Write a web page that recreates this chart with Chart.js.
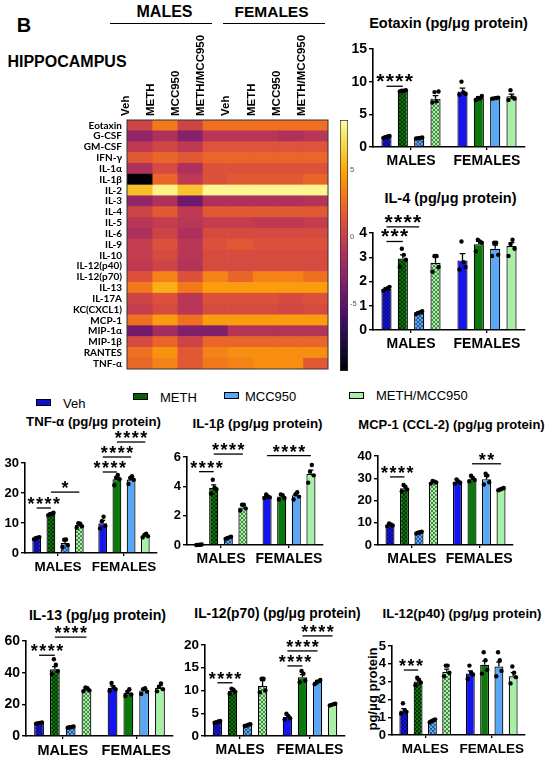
<!DOCTYPE html>
<html>
<head>
<meta charset="utf-8">
<script src="https://cdn.jsdelivr.net/npm/chart.js@4.4.1/dist/chart.umd.min.js"></script>
<style>
  body { margin: 0; background: #fff; width: 550px; height: 761px; position: relative; overflow: hidden;
         font-family: "Liberation Sans", Arial, sans-serif; color: #000; }
  canvas { position: absolute; }
  .t { position: absolute; font-weight: bold; white-space: nowrap; line-height: 1; transform: translate(-50%, -50%); }
  .rule { position: absolute; height: 0; border-top: 1.4px solid #000; }
  .box { position: absolute; width: 13px; height: 5px; border: 1.5px solid #000; }
  .lab { position: absolute; font-size: 13px; line-height: 1; white-space: nowrap; transform: translateY(-50%); }
  .ytitle { position: absolute; font-weight: bold; font-size: 13px; line-height: 1; white-space: nowrap;
            transform: translate(-50%, -50%) rotate(-90deg); }
</style>
</head>
<body>

<div class="t" style="left:24px;top:25px;font-size:20px">B</div>
<div class="t" style="left:67px;top:61.5px;font-size:16px">HIPPOCAMPUS</div>
<div class="t" style="left:164.5px;top:11.5px;font-size:16px">MALES</div>
<div class="rule" style="left:110px;top:23px;width:102px"></div>
<div class="t" style="left:271.5px;top:12px;font-size:15.5px">FEMALES</div>
<div class="rule" style="left:223px;top:23px;width:102px"></div>

<div class="t" style="left:448.5px;top:22.5px;font-size:14.5px">Eotaxin (pg/μg protein)</div>
<div class="t" style="left:450.5px;top:197.5px;font-size:14.5px">IL-4 (pg/μg protein)</div>
<div class="t" style="left:93.5px;top:422px;font-size:13.2px">TNF-α (pg/μg protein)</div>
<div class="t" style="left:257.5px;top:424px;font-size:13.4px">IL-1β (pg/μg protein)</div>
<div class="t" style="left:451.5px;top:424px;font-size:13px">MCP-1 (CCL-2) (pg/μg protein)</div>
<div class="t" style="left:97.5px;top:615px;font-size:14.2px">IL-13 (pg/μg protein)</div>
<div class="t" style="left:277.5px;top:613.5px;font-size:13.8px">IL-12(p70) (pg/μg protein)</div>
<div class="t" style="left:462px;top:614px;font-size:13.2px">IL-12(p40) (pg/μg protein)</div>
<div class="ytitle" style="left:372px;top:689px">pg/μg protein</div>

<div class="box" style="left:36px;top:399px;background:#1010c8"></div><div class="lab" style="left:63px;top:402.5px">Veh</div>
<div class="box" style="left:133px;top:393px;background:#0a600a"></div><div class="lab" style="left:160px;top:396.5px">METH</div>
<div class="box" style="left:224px;top:392px;background:#5aa8f5"></div><div class="lab" style="left:245px;top:396px">MCC950</div>
<div class="box" style="left:349px;top:392px;background:#a8f0a8"></div><div class="lab" style="left:376px;top:395px">METH/MCC950</div>

<canvas id="cHeat"></canvas>
<canvas id="cBar"></canvas>
<canvas id="cEotaxin"></canvas>
<canvas id="cIL4"></canvas>
<canvas id="cTNF"></canvas>
<canvas id="cIL1b"></canvas>
<canvas id="cMCP1"></canvas>
<canvas id="cIL13"></canvas>
<canvas id="cP70"></canvas>
<canvas id="cP40"></canvas>

<script>
const groups = ['MALES', 'FEMALES'];
const treatments = ['Veh', 'METH', 'MCC950', 'METH/MCC950'];

// heatmap (colour-scale units)
const cytokines = ['Eotaxin', 'G-CSF', 'GM-CSF', 'IFN-γ', 'IL-1α', 'IL-1β', 'IL-2', 'IL-3', 'IL-4', 'IL-5',
  'IL-6', 'IL-9', 'IL-10', 'IL-12(p40)', 'IL-12(p70)', 'IL-13', 'IL-17A', 'KC(CXCL1)', 'MCP-1',
  'MIP-1α', 'MIP-1β', 'RANTES', 'TNF-α'];
const heatColumns = ['Veh', 'METH', 'MCC950', 'METH/MCC950', 'Veh', 'METH', 'MCC950', 'METH/MCC950'];
const heatValues = [
  [0.3, 3.1, 0.3, 2.7, 2.7, 2.7, 2.7, 2.7],
  [-2.6, -1.3, -3.2, -0.9, -0.9, -0.9, -1.3, -0.9],
  [-0.5, 0.4, -0.5, 1.3, 1.3, 1.3, 1.3, 1.3],
  [1.6, 2.2, 1.6, 2.2, 2.2, 2.2, 2.2, 2.2],
  [-1.3, 0.8, -1.3, 1.2, 1.2, 1.2, 1.2, 1.2],
  [-10, 2.2, -0.5, 1.2, 1.6, 1.6, 1.6, 2.2],
  [5.9, 8.1, 6.1, 8.3, 8.3, 8.3, 8.3, 8.3],
  [-2.6, -1.3, -4.2, -1.3, -1.3, -1.3, -1.3, -1.0],
  [0.3, 1.6, -0.5, 1.6, 1.6, 1.6, 1.6, 1.6],
  [-0.8, -0.2, -0.8, -0.2, -0.2, -0.5, -0.5, -0.2],
  [-1.3, 0.3, -1.3, 0.8, 0.8, 0.8, 0.8, 0.8],
  [-0.2, 1.2, -0.8, 1.2, 1.6, 1.2, 1.2, 1.2],
  [-0.2, 0.8, -0.8, 0.8, 0.8, 0.8, 0.8, 0.8],
  [-0.5, 0.3, -1.0, 0.8, 0.8, 0.8, 0.8, 0.8],
  [1.2, 3.5, 1.2, 3.5, 2.2, 3.5, 3.5, 2.7],
  [3.1, 5.3, 3.1, 4.6, 4.6, 4.6, 4.6, 4.6],
  [0.3, 1.2, -0.8, 1.2, 1.2, 1.2, 0.8, 1.2],
  [-0.2, 0.8, -0.8, 0.8, 0.8, 0.8, 0.5, 0.8],
  [2.7, 4.6, 2.7, 4.6, 4.6, 4.6, 4.6, 4.6],
  [-4.0, -1.8, -3.4, -3.4, -1.0, -1.0, -1.0, -1.0],
  [0.8, 2.2, 0.3, 2.2, 2.2, 2.2, 2.2, 2.2],
  [2.7, 4.2, 1.6, 3.5, 4.0, 4.0, 4.0, 4.0],
  [2.3, 3.5, 1.6, 3.1, 3.5, 4.0, 4.0, 1.6]
];
const heatRange = [-10, 8.7];
const heatTicks = [-5, 0, 5];

// bar panels: 8 bars = 4 males then 4 females
const eotaxinTicks = [0, 5, 10, 15];
const eotaxinMean = [1.55, 8.6, 1.4, 7.4, 8.5, 7.5, 7.5, 7.75];
const eotaxinSem = [0.1, 0.1, 0.05, 0.45, 0.5, 0.15, 0.05, 0.35];
const eotaxinDots = [[1.4, 1.5, 1.6, 1.7], [8.5, 8.6, 8.6, 8.7], [1.3, 1.35, 1.4, 1.45], [6.8, 8.4, 7.0, 8.5],
  [8.0, 10.0, 8.4, 8.1], [7.2, 7.5, 7.4, 7.8], [7.4, 7.45, 7.5, 7.55], [7.2, 8.7, 7.6, 7.4]];
const eotaxinSig = [[0, 1, 9.3, '****']];

const il4Ticks = [0, 1, 2, 3, 4];
const il4Mean = [1.7, 2.95, 0.71, 2.77, 2.87, 3.54, 3.35, 3.46];
const il4Sem = [0.04, 0.15, 0.04, 0.25, 0.28, 0.12, 0.15, 0.14];
const il4Dots = [[1.62, 1.68, 1.72, 1.78], [2.6, 3.35, 3.1, 2.9], [0.66, 0.7, 0.73, 0.78], [2.4, 3.05, 3.05, 2.6],
  [2.5, 3.65, 2.8, 2.6], [3.25, 3.72, 3.65, 3.6], [3.05, 3.6, 3.6, 3.1], [3.05, 3.55, 3.72, 3.35]];
const il4Sig = [[0, 1, 3.65, '***'], [0, 2, 4.25, '****']];

const tnfTicks = [0, 10, 20, 30];
const tnfMean = [5.0, 13.0, 3.3, 9.3, 9.9, 24.6, 24.5, 5.8];
const tnfSem = [0.3, 0.3, 0.8, 0.5, 1.0, 0.8, 0.6, 0.4];
const tnfDots = [[4.6, 4.9, 5.1, 5.3], [12.6, 12.9, 13.1, 13.4], [2.0, 4.4, 4.5, 2.6], [8.4, 9.9, 9.8, 8.9],
  [8.2, 10.6, 12.1, 9.0], [22.6, 25.1, 26.0, 24.6], [23.0, 25.0, 25.6, 24.4], [5.2, 6.0, 6.4, 5.6]];
const tnfSig = [[0, 1, 15, '****'], [1, 3, 20.3, '*'], [4, 5, 27, '****'], [4, 6, 32, '****'], [5, 7, 37, '****']];

const il1bTicks = [0, 2, 4, 6];
const il1bMean = [0.03, 3.9, 0.5, 2.55, 3.3, 3.3, 3.4, 4.85];
const il1bSem = [0.01, 0.2, 0.05, 0.15, 0.08, 0.12, 0.12, 0.25];
const il1bDots = [[0.0, 0.01, 0.02, 0.03], [3.5, 4.45, 3.9, 3.8], [0.42, 0.47, 0.52, 0.56], [2.35, 2.75, 2.75, 2.5],
  [3.2, 3.45, 3.3, 3.25], [3.1, 3.45, 3.4, 3.2], [3.1, 3.45, 3.6, 3.3], [4.25, 5.0, 5.45, 4.75]];
const il1bSig = [[0, 1, 5.0, '****'], [1, 3, 6.2, '****'], [4, 7, 6.1, '****']];

const mcp1Ticks = [0, 10, 20, 30, 40];
const mcp1Mean = [9.0, 25.5, 5.6, 28.3, 28.4, 29.6, 29.6, 25.1];
const mcp1Sem = [0.4, 0.9, 0.3, 0.4, 0.5, 0.7, 1.3, 0.4];
const mcp1Dots = [[8.4, 9.7, 9.2, 8.8], [24.0, 27.0, 26.2, 25.0], [5.2, 5.5, 5.7, 6.0], [27.6, 28.8, 28.5, 28.1],
  [27.6, 29.5, 28.6, 28.0], [28.6, 31.2, 30.1, 29.2], [27.2, 32.0, 31.2, 28.2], [24.6, 24.9, 25.3, 25.6]];
const mcp1Sig = [[0, 1, 30.6, '****'], [5, 7, 36.5, '**']];

const il13Ticks = [0, 20, 40, 60];
const il13Mean = [8.2, 42.2, 5.6, 29.3, 30.5, 27.3, 28.8, 30.5];
const il13Sem = [0.3, 1.6, 0.3, 0.7, 1.2, 1.2, 1.2, 1.4];
const il13Dots = [[7.8, 8.1, 8.3, 8.6], [39, 48.5, 45, 41], [5.2, 5.5, 5.7, 6.0], [28.3, 30.6, 30.2, 28.8],
  [28.5, 33.5, 31, 29.5], [25.2, 28, 29.6, 26.2], [26.5, 29.5, 30.2, 28], [28.2, 31, 33.2, 29.6]];
const il13Sig = [[0, 1, 51, '****'], [1, 3, 62.5, '****']];

const p70Ticks = [0, 5, 10, 15, 20];
const p70Mean = [3.1, 9.9, 2.4, 11.0, 4.2, 12.9, 11.9, 6.9];
const p70Sem = [0.15, 0.4, 0.1, 1.2, 0.4, 0.6, 0.3, 0.15];
const p70Dots = [[2.9, 3.0, 3.2, 3.3], [9.3, 10.4, 10.2, 9.7], [2.2, 2.3, 2.5, 2.6], [9.6, 12.6, 12.6, 10],
  [3.6, 4.9, 4.4, 3.9], [11.8, 14.3, 13.7, 12.2], [11.4, 11.7, 12.0, 12.3], [6.7, 6.85, 7.0, 7.1]];
const p70Sig = [[0, 1, 11.7, '****'], [4, 5, 15.4, '****'], [4, 6, 18.7, '****'], [5, 7, 22, '****']];

const p40Ticks = [0, 1, 2, 3, 4, 5];
const p40Mean = [1.38, 3.0, 0.8, 3.55, 3.45, 3.95, 3.85, 3.3];
const p40Sem = [0.1, 0.1, 0.04, 0.15, 0.15, 0.2, 0.25, 0.2];
const p40Dots = [[1.2, 1.78, 1.4, 1.3], [2.8, 3.22, 3.1, 2.95], [0.72, 0.78, 0.83, 0.88], [3.3, 3.9, 3.9, 3.5],
  [3.15, 3.9, 3.5, 3.4], [3.45, 4.65, 4.2, 3.65], [3.3, 4.65, 4.2, 3.6], [2.9, 3.85, 3.5, 3.25]];
const p40Sig = [[0, 1, 3.65, '***']];

const solid = ['#1414f0', '#0a780a', '#5aa8f5', '#a8f0a8'];
const dark = ['#0a0a70', '#043204', '#2a5a95', '#4a8a4a'];
const FONT = '"Liberation Sans", Arial, sans-serif';

const inferno = ['#000004', '#160b39', '#420a68', '#6a176e', '#932667', '#bc3754', '#dd513a', '#f37819', '#fca50a', '#f6d746', '#fcffa4'];
function hex(h) { return [1, 3, 5].map(i => parseInt(h.slice(i, i + 2), 16)); }
function heatColor(v) {
  let t = (v - heatRange[0]) / (heatRange[1] - heatRange[0]);
  t = Math.min(1, Math.max(0, t)) * (inferno.length - 1);
  const i = Math.min(Math.floor(t), inferno.length - 2), f = t - i;
  const a = hex(inferno[i]), b = hex(inferno[i + 1]);
  return 'rgb(' + a.map((c, k) => Math.round(c + (b[k] - c) * f)).join(',') + ')';
}

function checker(base, shade) {
  const c = document.createElement('canvas');
  c.width = c.height = 4;
  const g = c.getContext('2d');
  g.fillStyle = base; g.fillRect(0, 0, 4, 4);
  g.fillStyle = shade; g.fillRect(0, 0, 2, 2); g.fillRect(2, 2, 2, 2);
  return g.createPattern(c, 'repeat');
}

function place(id, left, top, w, h) {
  const cv = document.getElementById(id);
  cv.width = w; cv.height = h;
  cv.style.left = left + 'px'; cv.style.top = top + 'px';
  cv.style.width = w + 'px'; cv.style.height = h + 'px';
  return cv;
}

// ---------- heatmap ----------
const frame = {
  id: 'frame',
  afterDraw(chart) {
    const { ctx, chartArea: a } = chart;
    ctx.save();
    ctx.strokeStyle = '#333'; ctx.lineWidth = 1;
    ctx.strokeRect(a.left, a.top, a.right - a.left, a.bottom - a.top);
    ctx.restore();
  }
};

new Chart(place('cHeat', 0, 0, 336, 380), {
  type: 'bar',
  data: {
    labels: cytokines,
    datasets: heatColumns.map((name, c) => ({
      label: name,
      data: cytokines.map(() => 1),
      backgroundColor: heatValues.map(row => heatColor(row[c])),
      borderWidth: 0,
      barPercentage: 1,
      categoryPercentage: 1
    }))
  },
  options: {
    indexAxis: 'y',
    responsive: false,
    animation: false,
    devicePixelRatio: 1,
    layout: { padding: { right: 8, bottom: 9 } },
    plugins: { legend: { display: false }, tooltip: { enabled: false } },
    scales: {
      x: {
        stacked: true, position: 'top', min: 0, max: heatColumns.length,
        grid: { display: false, drawTicks: false }, border: { display: false },
        afterBuildTicks: s => { s.ticks = heatColumns.map((n, i) => ({ value: i + 0.5 })); },
        ticks: {
          callback: (v, i) => heatColumns[i], minRotation: 90, maxRotation: 90, autoSkip: false,
          color: '#000', padding: 4, font: { family: FONT, size: 11.5, weight: 'bold' }
        },
        afterFit: s => { s.height = 120; }
      },
      y: {
        stacked: true,
        grid: { display: false, drawTicks: false }, border: { display: false },
        ticks: { autoSkip: false, color: '#000', padding: 5, font: { family: 'Lato, ' + FONT, size: 10, weight: 'bold' } },
        afterFit: s => { s.width = 127; }
      }
    }
  },
  plugins: [frame]
});

// colour bar
new Chart(place('cBar', 338, 110, 34, 268), {
  type: 'bar',
  data: {
    labels: [''],
    datasets: [{
      data: [heatRange],
      backgroundColor: ctx => {
        const a = ctx.chart.chartArea;
        if (!a) return '#bc3754';
        const g = ctx.chart.ctx.createLinearGradient(0, a.bottom, 0, a.top);
        inferno.forEach((c, i) => g.addColorStop(i / (inferno.length - 1), c));
        return g;
      },
      borderColor: '#333', borderWidth: 1, borderSkipped: false,
      barPercentage: 1, categoryPercentage: 1
    }]
  },
  options: {
    responsive: false, animation: false, devicePixelRatio: 1,
    layout: { padding: { top: 10, bottom: 7, left: 2 } },
    plugins: { legend: { display: false }, tooltip: { enabled: false } },
    scales: {
      x: { display: false },
      y: {
        position: 'right', min: heatRange[0], max: heatRange[1],
        grid: { display: false, drawTicks: false }, border: { display: false },
        ticks: { autoSkip: false, includeBounds: false, stepSize: heatTicks[1] - heatTicks[0],
                 color: '#555', padding: 2, font: { family: FONT, size: 7.5 },
                 callback: v => heatTicks.includes(v) ? String(v) : '' },
        afterFit: s => { s.width = 24; }
      }
    }
  }
});

// ---------- bar panels ----------
function makeOverlay(s) {
  return {
    id: 'overlay',
    afterDatasetsDraw(chart) {
      const ctx = chart.ctx, y = chart.scales.y;
      const barAt = b => chart.getDatasetMeta(b % 4).data[b < 4 ? 0 : 1];
      ctx.save();
      ctx.strokeStyle = '#000'; ctx.fillStyle = '#000'; ctx.lineWidth = 1.3;
      s.mean.forEach((m, b) => {
        const el = barAt(b);
        const top = y.getPixelForValue(m), end = y.getPixelForValue(m + s.sem[b]);
        const cap = el.width * 0.28;
        ctx.beginPath();
        ctx.moveTo(el.x, top); ctx.lineTo(el.x, end);
        ctx.moveTo(el.x - cap, end); ctx.lineTo(el.x + cap, end);
        ctx.stroke();
        s.dots[b].forEach((v, k) => {
          ctx.beginPath();
          ctx.arc(el.x + (k - 1.5) * el.width * 0.2, y.getPixelForValue(v), 2.2, 0, Math.PI * 2);
          ctx.fill();
        });
      });
      ctx.font = 'bold ' + s.star[0] + 'px ' + FONT;
      ctx.textAlign = 'center'; ctx.textBaseline = 'alphabetic';
      s.sig.forEach(([a, b, v, stars]) => {
        const xa = barAt(a).x, xb = barAt(b).x, yy = y.getPixelForValue(v);
        ctx.beginPath(); ctx.moveTo(xa, yy); ctx.lineTo(xb, yy); ctx.stroke();
        const cx = (xa + xb) / 2, n = stars.length;
        for (let i = 0; i < n; i++) ctx.fillText('*', cx + (i - (n - 1) / 2) * s.star[1], yy + 2);
      });
      ctx.restore();
    }
  };
}

const patterns = solid.map((c, i) => checker(c, dark[i]));

function barPanel(s) {
  const yW = s.yW || 30, padTop = 50, padR = 6, xH = 26;
  const left = Math.round(s.l - yW), top = Math.round(s.t - padTop);
  const w = Math.round(s.r + padR - left), h = Math.round(s.b + xH - top);
  new Chart(place(s.id, left, top, w, h), {
    type: 'bar',
    data: {
      labels: groups,
      datasets: treatments.map((name, t) => ({
        label: name,
        data: [s.mean[t], s.mean[t + 4]],
        backgroundColor: [patterns[t], solid[t]],
        borderColor: '#000', borderWidth: 1.2,
        barPercentage: 0.62, categoryPercentage: 0.86
      }))
    },
    options: {
      responsive: false, animation: false, devicePixelRatio: 1,
      layout: { padding: { top: Math.round(s.t) - top, right: padR, left: 0, bottom: 0 } },
      plugins: { legend: { display: false }, tooltip: { enabled: false } },
      scales: {
        x: {
          grid: { display: true, drawOnChartArea: false, offset: false, tickLength: 3, color: '#000', lineWidth: 1.3 },
          border: { display: true, color: '#000', width: 1.6 },
          ticks: { autoSkip: false, minRotation: 0, maxRotation: 0, color: '#000', padding: 3,
                   font: { family: FONT, size: s.lab, weight: 'bold' } },
          afterFit: sc => { sc.height = xH; }
        },
        y: {
          min: s.ticks[0], max: s.ticks[s.ticks.length - 1],
          grid: { display: true, drawOnChartArea: false, tickLength: 4, color: '#000', lineWidth: 1.4 },
          border: { display: true, color: '#000', width: 1.6 },
          ticks: { autoSkip: false, stepSize: s.ticks[1] - s.ticks[0], color: '#000', padding: 2,
                   font: { family: FONT, size: s.tick, weight: 'bold' } },
          afterFit: sc => { sc.width = yW; }
        }
      }
    },
    plugins: [makeOverlay(s)]
  });
}

barPanel({ id: 'cEotaxin', l: 373, r: 525, t: 49.3, b: 147, ticks: eotaxinTicks, mean: eotaxinMean, sem: eotaxinSem,
  dots: eotaxinDots, sig: eotaxinSig, tick: 14, lab: 14, star: [21, 9.5] });
barPanel({ id: 'cIL4', l: 373, r: 525, t: 232.7, b: 330, ticks: il4Ticks, mean: il4Mean, sem: il4Sem,
  dots: il4Dots, sig: il4Sig, tick: 14, lab: 14, star: [21, 9.5] });
barPanel({ id: 'cTNF', l: 25, r: 157, t: 463.3, b: 552.7, ticks: tnfTicks, mean: tnfMean, sem: tnfSem,
  dots: tnfDots, sig: tnfSig, tick: 13, lab: 13.5, star: [18, 8.5], yW: 27 });
barPanel({ id: 'cIL1b', l: 187, r: 323, t: 456.7, b: 545, ticks: il1bTicks, mean: il1bMean, sem: il1bSem,
  dots: il1bDots, sig: il1bSig, tick: 13, lab: 14, star: [18, 8.5], yW: 24 });
barPanel({ id: 'cMCP1', l: 378, r: 513, t: 456, b: 545, ticks: mcp1Ticks, mean: mcp1Mean, sem: mcp1Sem,
  dots: mcp1Dots, sig: mcp1Sig, tick: 13, lab: 14, star: [18, 8.5], yW: 27 });
barPanel({ id: 'cIL13', l: 26, r: 173, t: 640.7, b: 735.7, ticks: il13Ticks, mean: il13Mean, sem: il13Sem,
  dots: il13Dots, sig: il13Sig, tick: 14, lab: 14.5, star: [18, 8.5], yW: 27 });
barPanel({ id: 'cP70', l: 205, r: 345, t: 645, b: 735.7, ticks: p70Ticks, mean: p70Mean, sem: p70Sem,
  dots: p70Dots, sig: p70Sig, tick: 13.5, lab: 14, star: [18, 8.5], yW: 30 });
barPanel({ id: 'cP40', l: 392, r: 525, t: 646, b: 735, ticks: p40Ticks, mean: p40Mean, sem: p40Sem,
  dots: p40Dots, sig: p40Sig, tick: 13, lab: 13.5, star: [18, 8.5], yW: 18 });
</script>
</body>
</html>
